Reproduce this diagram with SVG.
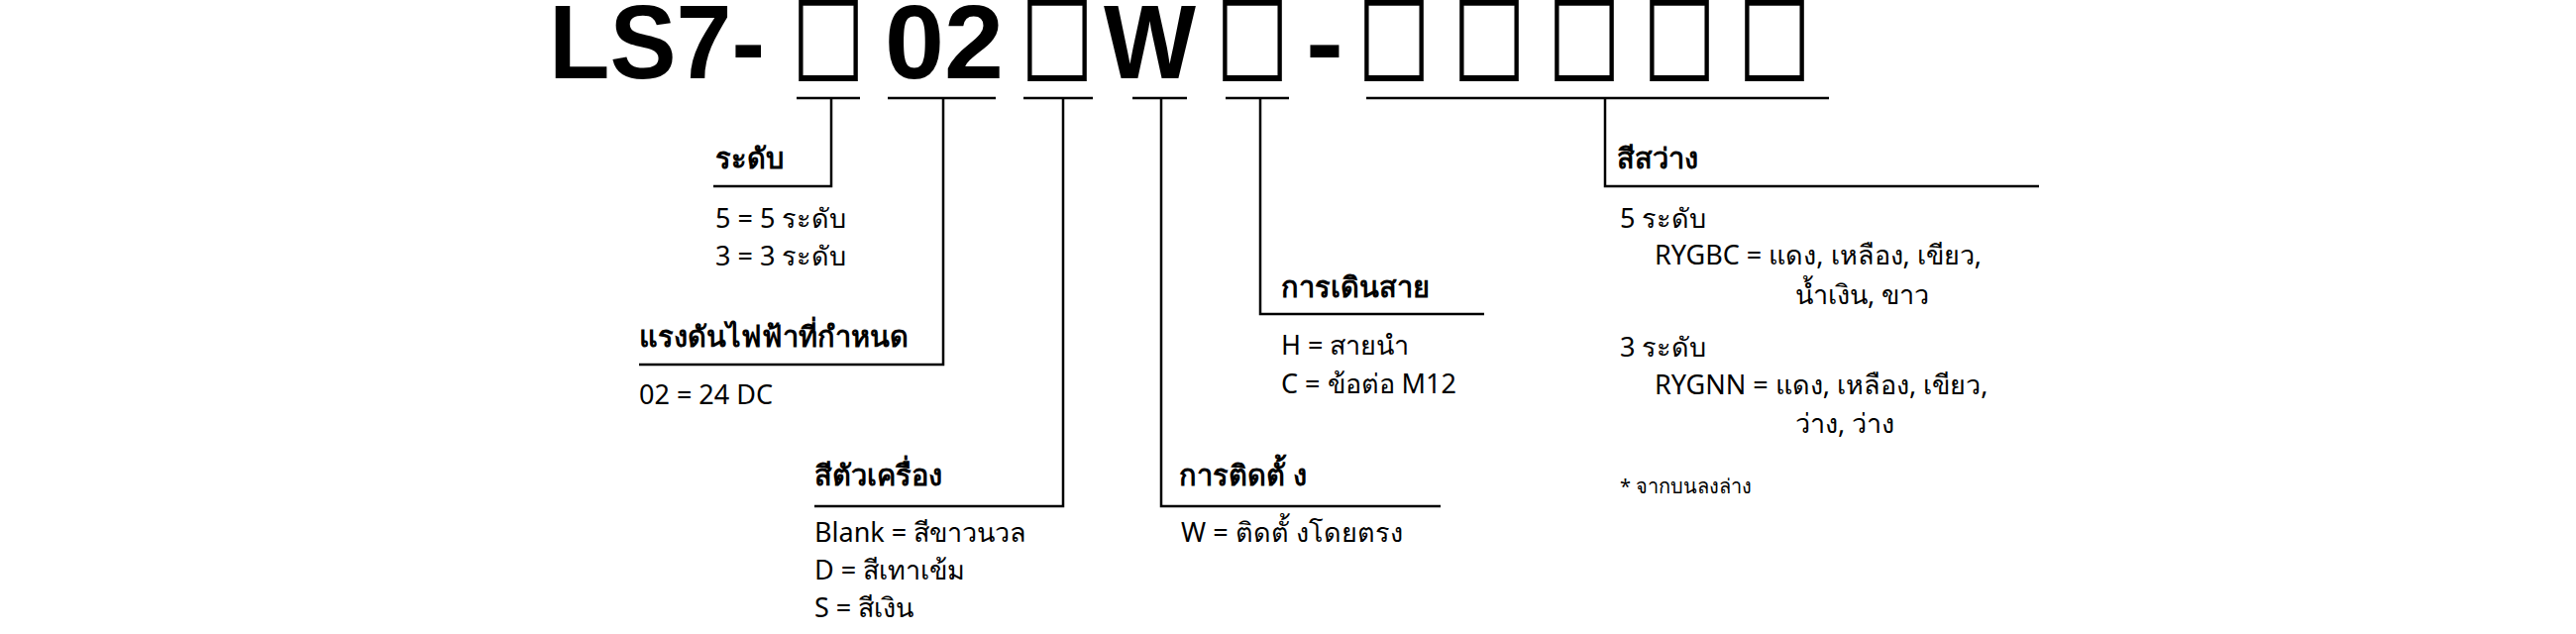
<svg xmlns="http://www.w3.org/2000/svg" width="2600" height="640" viewBox="0 0 2600 640">
<style>
text{font-family:"Noto Sans","DejaVu Sans",sans-serif;fill:#000}
.t{font-family:"Liberation Sans",Arial,sans-serif;font-weight:bold;font-size:106px}
.q{font-family:"DejaVu Sans",sans-serif;font-size:108px}
.h{font-weight:bold;font-size:29px}
.b{font-size:27px}
.s{font-size:20px}
line{stroke:#000;stroke-width:2.5}
</style>
<rect width="2600" height="640" fill="#fff"/>
<g id="title">
<text class="t" x="554" y="79" textLength="218" lengthAdjust="spacingAndGlyphs">LS7-</text>
<text class="t" x="893" y="79" textLength="120" lengthAdjust="spacingAndGlyphs">02</text>
<text class="t" x="1114" y="79" textLength="93" lengthAdjust="spacingAndGlyphs">W</text>
<text class="t" x="1318" y="79" textLength="38" lengthAdjust="spacingAndGlyphs">-</text>
<text class="q" x="799" y="69" textLength="74" lengthAdjust="spacingAndGlyphs">□</text>
<text class="q" x="1030" y="69" textLength="74" lengthAdjust="spacingAndGlyphs">□</text>
<text class="q" x="1227" y="69" textLength="74" lengthAdjust="spacingAndGlyphs">□</text>
<text class="q" x="1370" y="69" textLength="74" lengthAdjust="spacingAndGlyphs">□</text>
<text class="q" x="1466" y="69" textLength="74" lengthAdjust="spacingAndGlyphs">□</text>
<text class="q" x="1562" y="69" textLength="74" lengthAdjust="spacingAndGlyphs">□</text>
<text class="q" x="1658" y="69" textLength="74" lengthAdjust="spacingAndGlyphs">□</text>
<text class="q" x="1754" y="69" textLength="74" lengthAdjust="spacingAndGlyphs">□</text>
</g>
<g id="connectors">
<line x1="804" y1="99" x2="868" y2="99"/><line x1="896" y1="99" x2="1005" y2="99"/>
<line x1="1033" y1="99" x2="1103" y2="99"/><line x1="1143" y1="99" x2="1198" y2="99"/>
<line x1="1237" y1="99" x2="1301" y2="99"/><line x1="1379" y1="99" x2="1846" y2="99"/>
<polyline fill="none" stroke="#000" stroke-width="2.5" points="839,99 839,188 720,188"/>
<polyline fill="none" stroke="#000" stroke-width="2.5" points="952,99 952,368 645,368"/>
<polyline fill="none" stroke="#000" stroke-width="2.5" points="1073,99 1073,511 822,511"/>
<polyline fill="none" stroke="#000" stroke-width="2.5" points="1172,99 1172,511 1454,511"/>
<polyline fill="none" stroke="#000" stroke-width="2.5" points="1272,99 1272,317 1498,317"/>
<polyline fill="none" stroke="#000" stroke-width="2.5" points="1620,99 1620,188 2058,188"/>
</g>
<g id="level"><text class="h" x="722" y="170">ระดับ</text><text class="b" x="722" y="230">5 = 5 ระดับ</text><text class="b" x="722" y="268">3 = 3 ระดับ</text></g>
<g id="voltage"><text class="h" x="645" y="350">แรงดันไฟฟ้าที่กำหนด</text><text class="b" x="645" y="408">02 = 24 DC</text></g>
<g id="body"><text class="h" x="822" y="490">สีตัวเครื่อง</text><text class="b" x="822" y="547">Blank = สีขาวนวล</text><text class="b" x="822" y="585">D = สีเทาเข้ม</text><text class="b" x="822" y="623">S = สีเงิน</text></g>
<g id="mount"><text class="h" x="1190" y="490">การติดตั้ ง</text><text class="b" x="1192" y="547">W = ติดตั้ งโดยตรง</text></g>
<g id="wiring"><text class="h" x="1293" y="300">การเดินสาย</text><text class="b" x="1293" y="358">H = สายนำ</text><text class="b" x="1293" y="397">C = ข้อต่อ M12</text></g>
<g id="color"><text class="h" x="1632" y="170">สีสว่าง</text>
<text class="b" x="1635" y="230">5 ระดับ</text>
<text class="b" x="1670" y="267">RYGBC = แดง, เหลือง, เขียว,</text>
<text class="b" x="1812" y="307">น้ำเงิน, ขาว</text>
<text class="b" x="1635" y="360">3 ระดับ</text>
<text class="b" x="1670" y="398">RYGNN = แดง, เหลือง, เขียว,</text>
<text class="b" x="1812" y="437">ว่าง, ว่าง</text>
<text class="s" x="1635" y="498">* จากบนลงล่าง</text></g>
</svg>
